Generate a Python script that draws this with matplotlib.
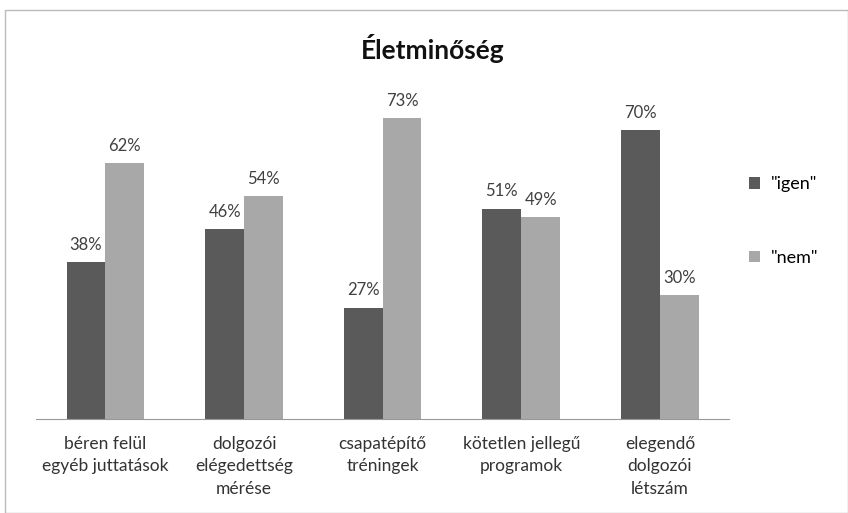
import matplotlib.pyplot as plt
import numpy as np
from matplotlib.patches import Rectangle

plt.rcParams['font.family'] = ['Lato', 'DejaVu Sans']

# data
categories = ["béren felül\negyéb juttatások", "dolgozói\nelégedettség\nmérése",
              "csapatépítő\ntréningek", "kötetlen jellegű\nprogramok",
              "elegendő\ndolgozói\nlétszám"]
igen = [38, 46, 27, 51, 70]
nem = [62, 54, 73, 49, 30]
series_names = ['"igen"', '"nem"']

dark = "#5a5a5a"
light = "#a8a8a8"

fig = plt.figure(figsize=(8.48, 5.13), dpi=100)
ax = fig.add_axes([0.0425, 0.183, 0.8175, 0.643])

x = np.arange(len(categories))
w = 0.28
b1 = ax.bar(x - w / 2, igen, w, color=dark, label=series_names[0])
b2 = ax.bar(x + w / 2, nem, w, color=light, label=series_names[1])

# data labels
for bars, vals in [(b1, igen), (b2, nem)]:
    for b, v in zip(bars, vals):
        ax.text(b.get_x() + b.get_width() / 2, v + 2.3, f"{v}%",
                ha="center", va="bottom", fontsize=12, color="#404040")

ax.set_xlim(-0.5, len(categories) - 0.5)
ax.set_ylim(0, 80)
ax.set_xticks(x)
ax.set_xticklabels(categories, fontsize=12.5, color="#333333", linespacing=1.5)
ax.tick_params(axis="x", length=0, pad=12)
ax.set_yticks([])
for s in ["top", "right", "left"]:
    ax.spines[s].set_visible(False)
ax.spines["bottom"].set_color("#999999")

# title
fig.text(0.51, 0.905, "Életminőség", ha="center", va="center",
         fontsize=19, fontweight="bold", color="#111111")

# legend
ax.legend(loc="center left", bbox_to_anchor=(1.005, 0.6), frameon=False,
          fontsize=13, handlelength=0.6, handleheight=0.6, labelspacing=3.2,
          handletextpad=0.6)

# outer border
fig.patches.append(Rectangle((0.006, 0.0), 0.994, 0.98, transform=fig.transFigure,
                             fill=False, edgecolor="#bbbbbb", linewidth=1))

fig.savefig("out.png", dpi=100)
